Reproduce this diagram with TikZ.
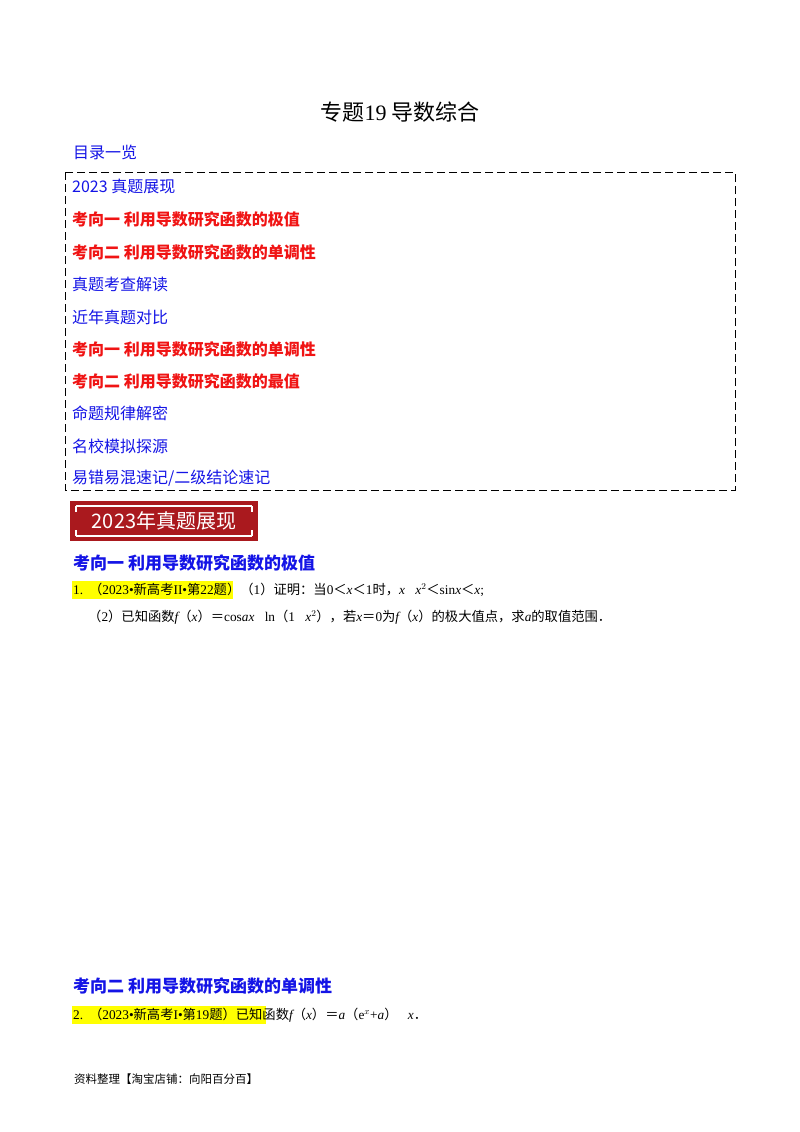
\documentclass[tikz,border=0pt]{standalone}
\usepackage{fontspec}
\setmainfont{Liberation Serif}
\newfontfamily\cjk{Noto Sans CJK SC}
\newfontfamily\lat{Liberation Serif}
\newcommand{\mi}[1]{{\lat\itshape #1}}
\newcommand{\mr}[1]{{\lat #1}}
\usetikzlibrary{calc}
\definecolor{tblue}{RGB}{20,20,230}
\definecolor{tred}{RGB}{240,20,20}
\definecolor{banred}{RGB}{170,25,30}
\definecolor{hl}{RGB}{255,255,0}
\begin{document}
\begin{tikzpicture}[x=1pt,y=-1pt,
  toc/.style={anchor=west,inner sep=0,font=\cjk\fontsize{16}{16}\selectfont,text=tblue},
  tocr/.style={anchor=west,inner sep=0,font=\cjk\bfseries\fontsize{16}{16}\selectfont,text=tred},
  head/.style={anchor=west,inner sep=0,font=\cjk\bfseries\fontsize{17}{17}\selectfont,text=tblue},
  body/.style={anchor=west,inner sep=0,font=\cjk\fontsize{13.3}{14}\selectfont},
  hlmark/.style={fill=hl,draw=none}]
\useasboundingbox[fill=white] (0,0) rectangle (800,1132);
\node (title) at (400,112) {\cjk\fontsize{22}{22}\selectfont 专题\mr{19}\ 导数综合};
\node[toc] (ml) at (73,152) {目录一览};
\draw[dashed,dash pattern=on 8pt off 4pt,line width=0.8pt] (65,172) rectangle (735,490);
\node[toc] (t1) at (72,186) {2023 真题展现};
\node[tocr] (t2) at (72,219) {考向一\ 利用导数研究函数的极值};
\node[tocr] (t3) at (72,252) {考向二\ 利用导数研究函数的单调性};
\node[toc] (t4) at (72,284) {真题考查解读};
\node[toc] (t5) at (72,317) {近年真题对比};
\node[tocr] (t6) at (72,349) {考向一\ 利用导数研究函数的单调性};
\node[tocr] (t7) at (72,381) {考向二\ 利用导数研究函数的最值};
\node[toc] (t8) at (72,413) {命题规律解密};
\node[toc] (t9) at (72,446) {名校模拟探源};
\node[toc] (t10) at (72,478) {易错易混速记/二级结论速记};
% banner
\fill[banred] (70,501) rectangle (258,541);
\draw[white,line width=1.2pt] (76,506) -- (252,506) (76,536) -- (252,536);
\draw[white,line width=1.2pt] (76,506) -- (76,512) (252,506) -- (252,512) (76,536) -- (76,530) (252,536) -- (252,530);
\fill[banred] (82,509) rectangle (246,533);
\node[anchor=center,text=white] (ban) at (164,521) {\cjk\fontsize{20}{20}\selectfont 2023年真题展现};
\node[head] (h1) at (73,563) {考向一\ 利用导数研究函数的极值};
\fill[hlmark] (72,581) rectangle (233,599);
\node[body] (q1) at (73,590) {\mr{1.}\ \ （\mr{2023•}新高考\mr{II•}第\mr{22}题）（\mr{1}）证明：当\mr{0}＜\mi{x}＜\mr{1}时，\mi{x}\mr{﹣}\mi{x}\mr{$^2$}＜\mr{sin}\mi{x}＜\mi{x}\mr{;}};
\node[body] (q1b) at (88,617) {（\mr{2}）已知函数\mi{f}（\mi{x}）＝\mr{cos}\mi{ax}\mr{﹣ln}（\mr{1﹣}\mi{x}\mr{$^2$}），若\mi{x}＝\mr{0}为\mi{f}（\mi{x}）的极大值点，求\mi{a}的取值范围．};
\node[head] (h2) at (73,986) {考向二\ 利用导数研究函数的单调性};
\fill[hlmark] (72,1006) rectangle (266,1024);
\node[body] (q2) at (73,1015) {\mr{2.}\ \ （\mr{2023•}新高考\mr{I•}第\mr{19}题）已知函数\mi{f}（\mi{x}）＝\mi{a}（\mr{e}$^x$\mr{+}\mi{a}）\mr{﹣}\mi{x}．};
\node[body,font=\cjk\fontsize{11.5}{12}\selectfont] (ft) at (74,1079) {资料整理【淘宝店铺：向阳百分百】};
\end{tikzpicture}
\end{document}
